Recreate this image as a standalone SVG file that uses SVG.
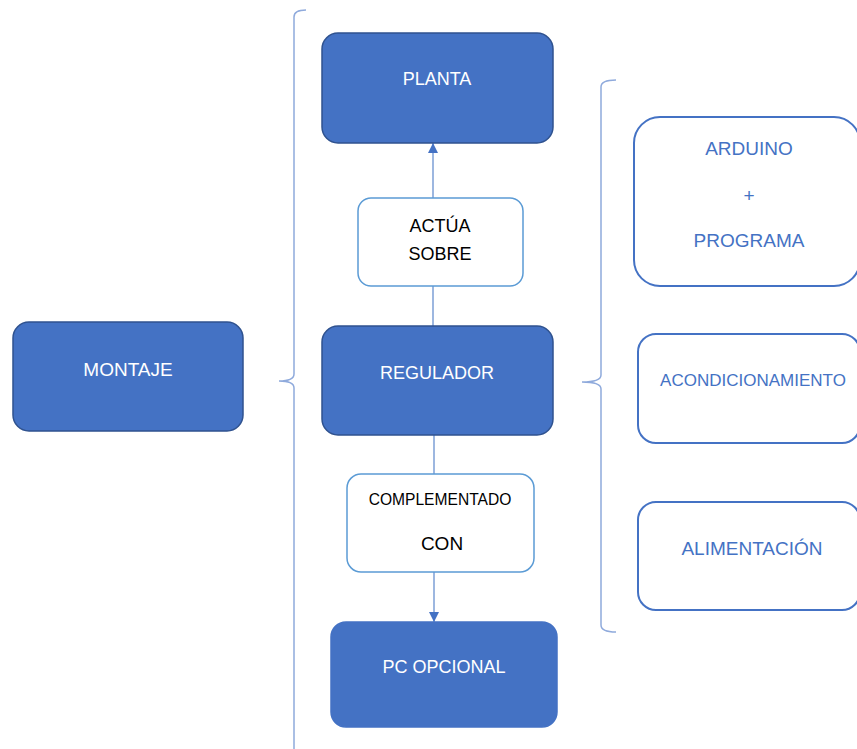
<svg xmlns="http://www.w3.org/2000/svg" width="857" height="749" viewBox="0 0 857 749">
  <defs>
    <style>
      .dark rect { fill: #4472C4; stroke: #2F528F; stroke-width: 1.5; }
      .dark text { fill: #FFFFFF; font-family: "Liberation Sans", Arial, sans-serif; font-size: 18px; text-anchor: middle; dominant-baseline: central; }
      .label rect { fill: #FFFFFF; stroke: #5B9BD5; stroke-width: 1.5; }
      .label text { fill: #000000; font-family: "Liberation Sans", Arial, sans-serif; font-size: 18px; text-anchor: middle; dominant-baseline: central; }
      .part rect { fill: #FFFFFF; stroke: #4472C4; stroke-width: 2; }
      .part text { fill: #4472C4; font-family: "Liberation Sans", Arial, sans-serif; font-size: 19px; text-anchor: middle; dominant-baseline: central; }
      .brace { fill: none; stroke: #8FAADC; stroke-width: 1.5; }
      .link { fill: none; stroke: #7D9FD6; stroke-width: 1.5; }
    </style>
    <marker id="arrow" viewBox="0 0 10 10" refX="10" refY="5" markerWidth="10" markerHeight="10" markerUnits="userSpaceOnUse" orient="auto">
      <path d="M0,0 L10,5 L0,10 Z" fill="#4472C4"/>
    </marker>
  </defs>

  <!-- braces -->
  <g id="braces">
    <path class="brace" d="M306,10 Q294,10 294,17 V374 Q294,381 279,381 Q294,381 294,388 V749"/>
    <path class="brace" d="M616,80 Q601,80 601,87 V375 Q601,382 582,382 Q601,382 601,389 V625 Q601,632 616,632"/>
  </g>

  <!-- connectors -->
  <g id="connectors">
    <line class="link" x1="433" y1="326" x2="433" y2="286"/>
    <line class="link" x1="433" y1="198" x2="433" y2="143" marker-end="url(#arrow)"/>
    <line class="link" x1="434" y1="435" x2="434" y2="474"/>
    <line class="link" x1="434" y1="572" x2="434" y2="622" marker-end="url(#arrow)"/>
  </g>

  <g id="montaje" class="dark">
    <rect x="13" y="322" width="230" height="109" rx="16"/>
    <text x="128" y="369" style="font-size:19px">MONTAJE</text>
  </g>

  <g id="planta" class="dark">
    <rect x="322" y="33" width="231" height="110" rx="16"/>
    <text x="437" y="79">PLANTA</text>
  </g>

  <g id="actua-sobre" class="label">
    <rect x="358" y="198" width="165" height="88" rx="13"/>
    <text x="440" y="226">ACTÚA</text>
    <text x="440" y="254">SOBRE</text>
  </g>

  <g id="regulador" class="dark">
    <rect x="322" y="326" width="231" height="109" rx="16"/>
    <text x="437" y="373">REGULADOR</text>
  </g>

  <g id="complementado-con" class="label">
    <rect x="347" y="474" width="187" height="98" rx="14"/>
    <text x="440" y="499" style="font-size:15.6px">COMPLEMENTADO</text>
    <text x="442" y="543" style="font-size:19px">CON</text>
  </g>

  <g id="pc-opcional" class="dark">
    <rect x="331" y="622" width="226" height="105" rx="15" style="stroke:#4472C4"/>
    <text x="444" y="667">PC OPCIONAL</text>
  </g>

  <g id="arduino" class="part">
    <rect x="634" y="117" width="226" height="169" rx="26"/>
    <text x="749" y="148">ARDUINO</text>
    <text x="749" y="195">+</text>
    <text x="749" y="240">PROGRAMA</text>
  </g>

  <g id="acondicionamiento" class="part">
    <rect x="638" y="334" width="222" height="109" rx="18"/>
    <text x="753" y="380" style="font-size:17px">ACONDICIONAMIENTO</text>
  </g>

  <g id="alimentacion" class="part">
    <rect x="638" y="502" width="222" height="108" rx="18"/>
    <text x="752" y="548">ALIMENTACIÓN</text>
  </g>
</svg>
